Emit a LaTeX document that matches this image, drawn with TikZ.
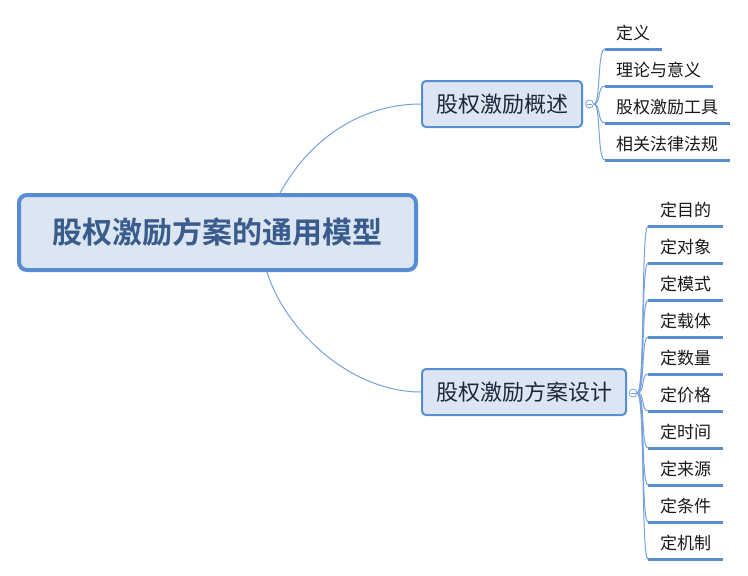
\documentclass[tikz,border=0pt]{standalone}
\usepackage{fontspec}
\setmainfont{Noto Sans CJK SC}[BoldFont={Noto Sans CJK SC Bold}]
\begin{document}
\begin{tikzpicture}[x=1pt,y=-1pt,
  rootbox/.style={draw=mmblue, line width=4pt, fill=mmfill, rounded corners=8pt, minimum width=397pt, minimum height=75pt, inner sep=0pt, font=\fontsize{30}{34}\selectfont\bfseries, text=roottext},
  subbox/.style={draw=mmblue, line width=2pt, fill=mmfill, rounded corners=4pt, minimum height=46pt, inner sep=0pt, font=\fontsize{22}{26}\selectfont, text=subtext},
  ctext/.style={anchor=west, inner sep=0pt, font=\fontsize{17}{20}\selectfont, text=black!90},
  uline/.style={draw=mmblue, line width=3pt},
  conn/.style={draw=connc, line width=1pt},
  knob/.style={circle, draw=connc, fill=white, line width=0.8pt, minimum size=8pt, inner sep=0pt},
]
\definecolor{mmblue}{RGB}{88,140,212}
\definecolor{mmfill}{RGB}{220,230,242}
\definecolor{connc}{RGB}{120,162,220}
\definecolor{roottext}{RGB}{58,92,140}
\definecolor{subtext}{RGB}{30,40,58}
\useasboundingbox (0,0) rectangle (748,576);
\fill[white] (0,0) rectangle (748,576);

% root and main topics
\node[rootbox] (root) at (217.5,232.5) {股权激励方案的通用模型};
\node[subbox, minimum width=160pt] (s1) at (502,104) {股权激励概述};
\node[subbox, minimum width=204pt] (s2) at (524,392) {股权激励方案设计};

% root connectors
\coordinate (r1) at (280,193);
\coordinate (r2) at (267,272);
\draw[conn] (r1) .. controls (315,130) and (370,104) .. (s1.west);
\draw[conn] (r2) .. controls (285,330) and (350,392) .. (s2.west);

% collapse knobs
\node[knob] (k1) at (589.5,104) {};
\node[knob] (k2) at (633,393) {};
\draw[connc, line width=0.8pt] ([xshift=-2.5pt]k1.center) -- ([xshift=2.5pt]k1.center);
\draw[connc, line width=0.8pt] ([xshift=-2.5pt]k2.center) -- ([xshift=2.5pt]k2.center);

% children of s1
\foreach \i/\t/\y/\w in {1/定义/49/662, 2/理论与意义/86/713, 3/股权激励工具/123/730, 4/相关法律法规/160/730}{
  \node[ctext] (a\i) at (616,\y-16) {\t};
  \coordinate (ua\i) at (605,\y);
  \coordinate (va\i) at (\w,\y);
  \draw[conn] (k1.east) .. controls (601,104) and (597,\y) .. (ua\i);
  \draw[uline] (ua\i) -- (va\i);
}

% children of s2
\foreach \i/\t/\y in {1/定目的/226, 2/定对象/263, 3/定模式/300, 4/定载体/337, 5/定数量/374, 6/定价格/411, 7/定时间/448, 8/定来源/485, 9/定条件/522, 10/定机制/559}{
  \node[ctext] (b\i) at (660,\y-16) {\t};
  \coordinate (ub\i) at (648,\y);
  \coordinate (vb\i) at (723,\y);
  \draw[conn] (k2.east) .. controls (645,393) and (641,\y) .. (ub\i);
  \draw[uline] (ub\i) -- (vb\i);
}
\end{tikzpicture}
\end{document}
